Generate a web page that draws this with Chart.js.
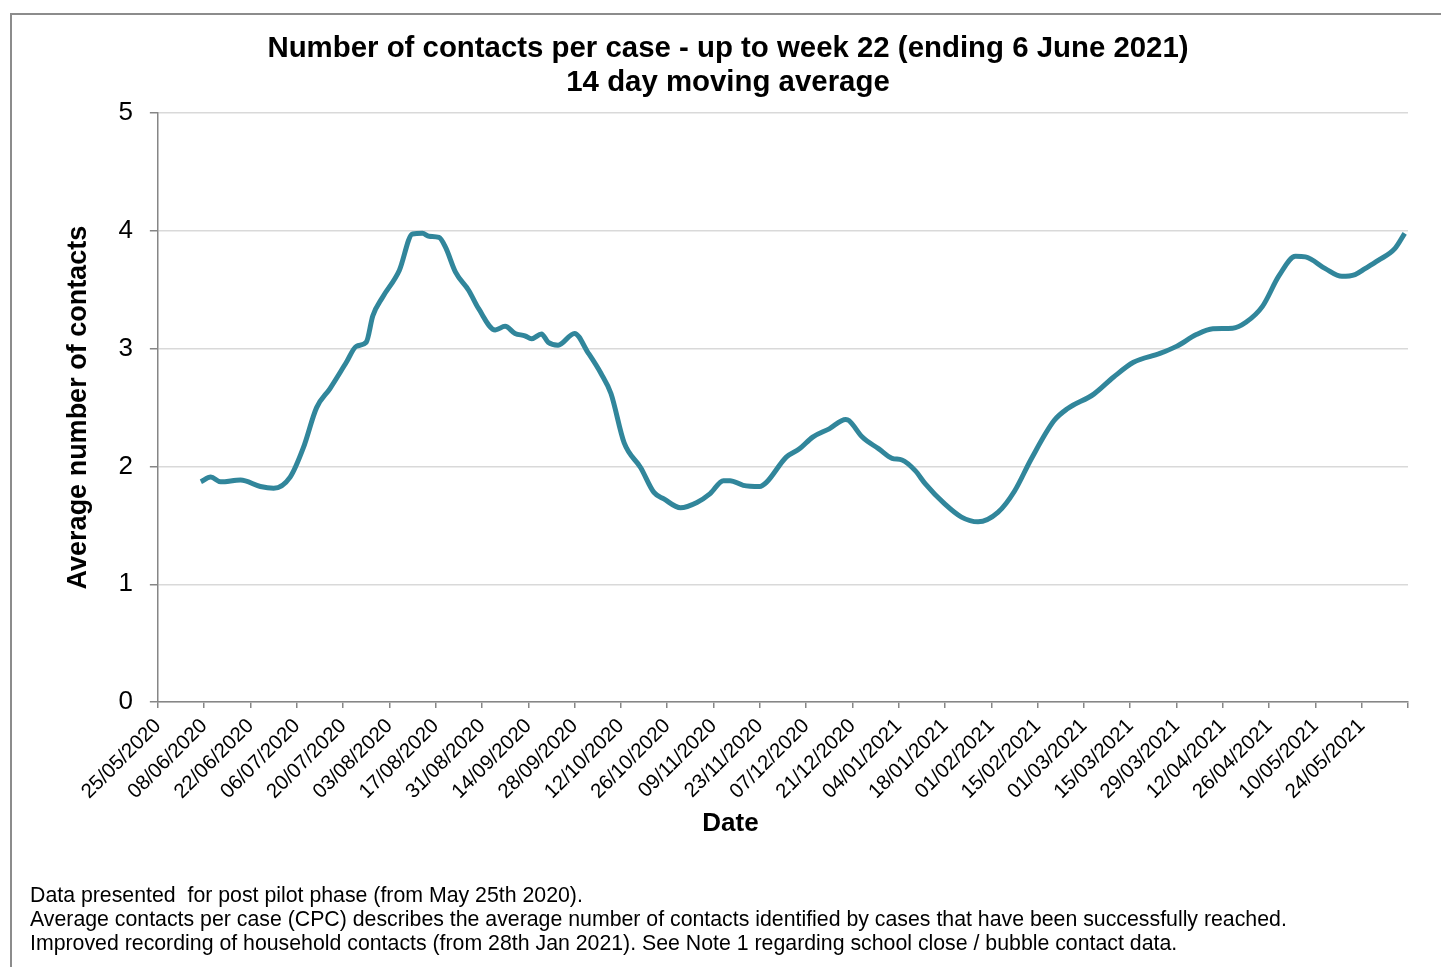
<!DOCTYPE html>
<html>
<head>
<meta charset="utf-8">
<title>Number of contacts per case</title>
<script src="https://cdn.jsdelivr.net/npm/chart.js@4.4.1/dist/chart.umd.min.js"></script>
<style>
  html, body { margin: 0; padding: 0; background: #fff; }
  body { width: 1441px; height: 967px; position: relative; overflow: hidden; font-family: "Liberation Sans", Arial, sans-serif; }
  #frame { position: absolute; left: 10px; top: 13px; width: 1500px; height: 1000px; border-left: 2px solid #8c8c8c; border-top: 2px solid #8c8c8c; }
  #wrap { position: absolute; left: 0; top: 0; width: 1441px; height: 967px; }
  #notes { position: absolute; left: 30px; top: 883px; font-size: 21.3px; line-height: 24px; color: #000; }
</style>
</head>
<body>
<div id="frame"></div>
<div id="wrap"><canvas id="contactsChart"></canvas></div>
<div id="notes">
  <div>Data presented&nbsp; for post pilot phase (from May 25th 2020).</div>
  <div>Average contacts per case (CPC) describes the average number of contacts identified by cases that have been successfully reached.</div>
  <div>Improved recording of household contacts (from 28th Jan 2021). See Note 1 regarding school close / bubble contact data.</div>
</div>
<script>
// Day 0 = 25/05/2020, ticks every 14 days
const startDate = Date.UTC(2020, 4, 25);
const tickStep = 14;
const lastDay = 378;

// Values (day offset, 14 day moving average)
const days = [13, 16, 19, 25, 31, 35, 40, 44, 48, 52, 57, 60, 63, 65, 68, 73, 77, 80, 82, 85,
  87, 90, 94, 97, 102, 105, 108, 111, 113, 116, 118, 121, 126, 130, 134, 137, 141, 146, 150, 153,
  158, 163, 167, 171, 173, 177, 182, 184, 190, 194, 198, 203, 208, 209, 213, 218, 222, 225, 229, 232,
  238, 243, 248, 254, 259, 264, 271, 275, 283, 289, 295, 303, 308, 314, 319, 325, 329, 334, 339, 344,
  347, 353, 358, 362, 365, 369, 374, 377];
const contacts = [1.87, 1.91, 1.87, 1.885, 1.83, 1.815, 1.91, 2.16, 2.50, 2.66, 2.885, 3.02, 3.055, 3.28, 3.44, 3.665, 3.975, 3.98, 3.955, 3.945,
  3.86, 3.65, 3.495, 3.34, 3.16, 3.19, 3.13, 3.11, 3.085, 3.125, 3.055, 3.03, 3.13, 2.97, 2.79, 2.62, 2.2, 1.99, 1.78, 1.725,
  1.65, 1.695, 1.77, 1.88, 1.88, 1.84, 1.83, 1.865, 2.08, 2.15, 2.25, 2.32, 2.40, 2.39, 2.25, 2.15, 2.07, 2.055, 1.965, 1.855,
  1.68, 1.57, 1.53, 1.61, 1.79, 2.06, 2.39, 2.49, 2.615, 2.76, 2.885, 2.96, 3.02, 3.12, 3.17, 3.175, 3.225, 3.36, 3.62, 3.785,
  3.78, 3.68, 3.615, 3.63, 3.68, 3.75, 3.85, 3.98];
const yTicks = [0, 1, 2, 3, 4, 5];

const FONT = '"Liberation Sans", Arial, sans-serif';
const AXIS_GREY = '#868686';
const GRID_GREY = '#d9d9d9';
const LINE_COLOR = '#31869b';

function dayLabel(d) {
  if (d >= lastDay) return '';
  const dt = new Date(startDate + d * 86400000);
  const dd = String(dt.getUTCDate()).padStart(2, '0');
  const mm = String(dt.getUTCMonth() + 1).padStart(2, '0');
  return dd + '/' + mm + '/' + dt.getUTCFullYear();
}

// "Date" title drawn centred on the whole chart, like the original
const xTitlePlugin = {
  id: 'xTitle',
  afterDraw(chart) {
    const ctx = chart.ctx;
    ctx.save();
    ctx.font = 'bold 26px ' + FONT;
    ctx.fillStyle = '#000';
    ctx.textAlign = 'center';
    ctx.textBaseline = 'middle';
    ctx.fillText('Date', chart.width / 2 + 10, chart.scales.x.bottom + 14);
    ctx.restore();
  }
};

new Chart(document.getElementById('contactsChart'), {
  type: 'line',
  data: {
    datasets: [{
      data: days.map((d, i) => ({ x: d, y: contacts[i] })),
      borderColor: LINE_COLOR,
      borderWidth: 5,
      pointRadius: 0,
      fill: false,
      cubicInterpolationMode: 'monotone'
    }]
  },
  plugins: [xTitlePlugin],
  options: {
    responsive: true,
    maintainAspectRatio: false,
    animation: false,
    layout: { padding: { left: 48, right: 33, top: 0, bottom: 157 } },
    plugins: {
      legend: { display: false },
      tooltip: { enabled: false },
      title: {
        display: true,
        text: ['Number of contacts per case - up to week 22 (ending 6 June 2021)', '14 day moving average'],
        color: '#000',
        font: { family: FONT, size: 29.4, weight: 'bold', lineHeight: 1.16 },
        padding: { top: 32, bottom: 13 }
      }
    },
    scales: {
      x: {
        type: 'linear',
        min: 0,
        max: lastDay,
        grid: { drawOnChartArea: false, drawTicks: true, tickLength: 6, tickColor: AXIS_GREY, lineWidth: 1.5 },
        border: { color: AXIS_GREY, width: 1.5 },
        ticks: {
          stepSize: tickStep,
          autoSkip: false,
          maxRotation: 45,
          minRotation: 45,
          padding: 6,
          color: '#000',
          font: { family: FONT, size: 20.5 },
          callback: (v) => dayLabel(v)
        }
      },
      y: {
        min: 0,
        max: 5,
        afterBuildTicks: (axis) => { axis.ticks = yTicks.map(v => ({ value: v })); },
        grid: { color: GRID_GREY, lineWidth: 1.5, tickLength: 8, tickColor: AXIS_GREY },
        border: { color: AXIS_GREY, width: 1.5 },
        ticks: { color: '#000', padding: 17, font: { family: FONT, size: 26 } },
        title: {
          display: true,
          text: 'Average number of contacts',
          color: '#000',
          font: { family: FONT, size: 27, weight: 'bold' },
          padding: { top: 14, bottom: 7 }
        }
      }
    }
  }
});
</script>
</body>
</html>
